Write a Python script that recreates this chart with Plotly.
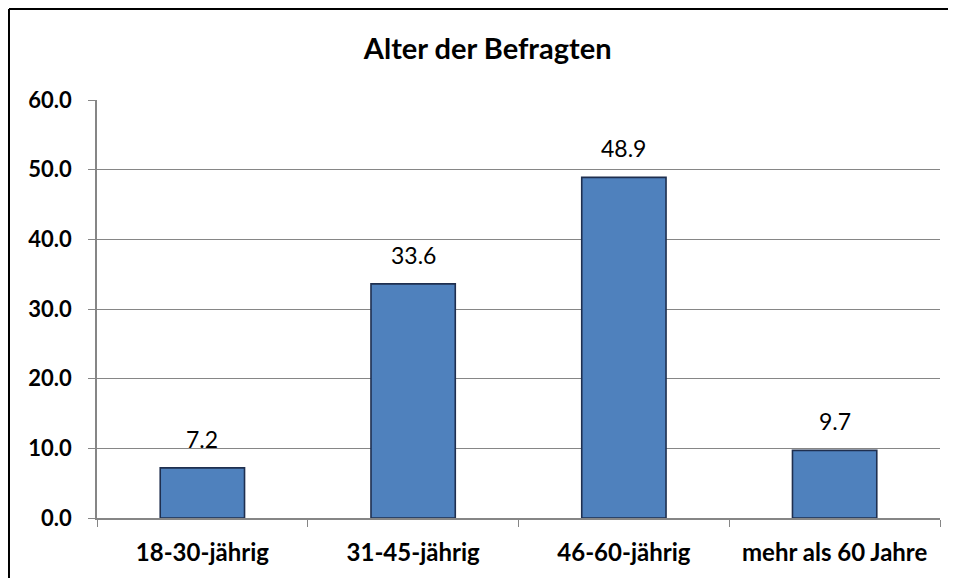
import plotly.graph_objects as go

categories = ["18-30-jährig", "31-45-jährig", "46-60-jährig", "mehr als 60 Jahre"]
values = [7.2, 33.6, 48.9, 9.7]
y_ticks = [0, 10, 20, 30, 40, 50, 60]
y_tick_labels = ["0.0", "10.0", "20.0", "30.0", "40.0", "50.0", "60.0"]
title = "Alter der Befragten"

FONT = "Lato"

fig = go.Figure()
fig.add_trace(go.Bar(
    x=categories, y=values, width=0.4,
    marker=dict(color="#4F81BD", line=dict(color="#1F2F4F", width=1.6)),
    hoverinfo="x+y",
))

for c, v in zip(categories, values):
    fig.add_annotation(x=c, y=v, text=f"{v:.1f}", showarrow=False,
                       yshift=29, font=dict(family=FONT, size=23, color="#000000"))

# outer frame (right and bottom edges fall outside the picture)
fig.add_shape(type="line", xref="paper", yref="paper",
              x0=-0.1044, y0=-0.3, x1=-0.1044, y1=1.2177,
              line=dict(color="#000000", width=2), layer="below")
fig.add_shape(type="line", xref="paper", yref="paper",
              x0=-0.1044, y0=1.2177, x1=1.2, y1=1.2177,
              line=dict(color="#000000", width=2), layer="below")

fig.update_layout(
    width=948, height=570,
    margin=dict(l=89, r=16, t=92, b=60),
    paper_bgcolor="white", plot_bgcolor="white",
    showlegend=False,
    title=dict(text=f"<b>{title}</b>", x=0.506, xanchor="center", y=0.928, yanchor="middle",
               font=dict(family=FONT, size=29, color="#000000")),
    bargap=0.6,
)
fig.update_xaxes(
    showline=True, linecolor="#868686", linewidth=1.5,
    ticks="outside", ticklen=7, tickcolor="#868686", tickson="boundaries",
    showgrid=False,
    tickfont=dict(family=FONT, size=24, color="#000000"),
    tickprefix="<b>", ticksuffix="</b>",
    ticklabelstandoff=12,
)
fig.update_yaxes(
    range=[0, 60], tickvals=y_ticks, ticktext=[f"<b>{t}</b>" for t in y_tick_labels],
    showline=True, linecolor="#868686", linewidth=1.5,
    ticks="outside", ticklen=7, tickcolor="#868686",
    showgrid=True, gridcolor="#868686", gridwidth=1.2,
    zeroline=False,
    tickfont=dict(family=FONT, size=22, color="#000000"),
    ticklabelstandoff=12,
)

fig.write_html("out.html")
